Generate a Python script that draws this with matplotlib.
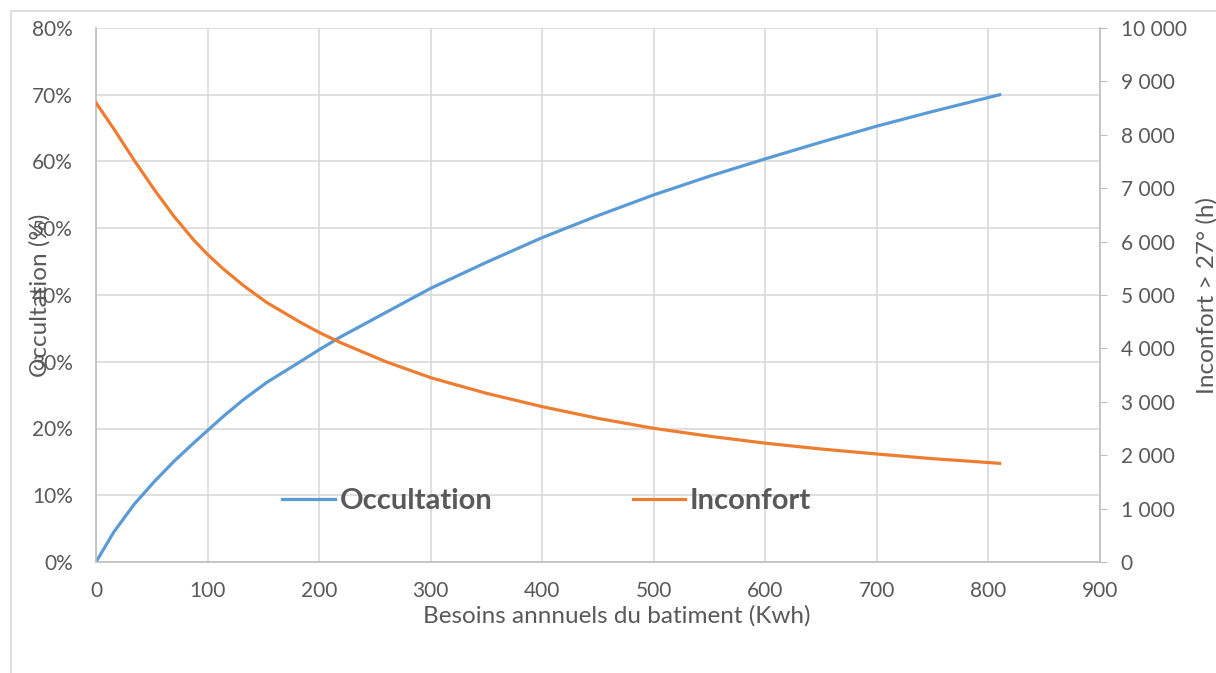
import matplotlib.pyplot as plt
from matplotlib.patches import Rectangle
from matplotlib.ticker import FuncFormatter, MultipleLocator

# values
besoins = [0, 16, 34, 52, 70, 88, 100, 114, 132, 153, 183, 200, 219, 260, 300, 350, 400,
           450, 500, 550, 600, 650, 700, 750, 810]
occultation = [0, 4.5, 8.6, 12.0, 15.1, 17.9, 19.7, 21.8, 24.3, 26.9, 30.0, 31.8, 33.7, 37.4, 41.0,
               44.9, 48.6, 51.9, 55.0, 57.8, 60.4, 62.9, 65.3, 67.5, 70.0]
inconfort = [8600, 8110, 7530, 6980, 6470, 6020, 5760, 5490, 5180, 4860, 4490, 4300, 4110, 3750, 3452,
             3159, 2909, 2690, 2503, 2355, 2225, 2116, 2022, 1935, 1848]

blue = '#5b9bd5'
orange = '#ed7d31'
gray = '#595959'
grid_c = '#d9d9d9'

plt.rcParams['font.family'] = ['Lato', 'DejaVu Sans']

fig = plt.figure(figsize=(12.16, 6.73), dpi=100)
ax = fig.add_axes([96 / 1216, 1 - 562 / 673, 1004 / 1216, 534 / 673])
ax2 = ax.twinx()

# outer chart frame
fig.patches.append(Rectangle((11 / 1216, -0.01), 1.02, 1 - 11 / 673 + 0.01,
                             transform=fig.transFigure, fill=False,
                             edgecolor=grid_c, linewidth=1.2))

l1, = ax.plot(besoins, occultation, color=blue, linewidth=2.3, label='Occultation')
l2, = ax2.plot(besoins, inconfort, color=orange, linewidth=2.3, label='Inconfort')

ax.set_xlim(0, 900)
ax.set_ylim(0, 80)
ax2.set_ylim(0, 10000)
ax.xaxis.set_major_locator(MultipleLocator(100))
ax.yaxis.set_major_locator(MultipleLocator(10))
ax2.yaxis.set_major_locator(MultipleLocator(1000))
ax.yaxis.set_major_formatter(FuncFormatter(lambda v, p: f'{v:.0f}%'))
ax2.yaxis.set_major_formatter(FuncFormatter(lambda v, p: f'{v:,.0f}'.replace(',', ' ')))

ax.grid(True, color=grid_c, linewidth=1.2)
ax.set_axisbelow(True)
for a in (ax, ax2):
    a.spines['top'].set_visible(False)
    for s in ('left', 'right', 'bottom'):
        a.spines[s].set_color('#bfbfbf')
        a.spines[s].set_linewidth(1.2)
ax.spines['right'].set_visible(False)
ax2.spines['left'].set_visible(False)
ax2.spines['bottom'].set_visible(False)

ax.tick_params(axis='x', length=0, labelsize=15, labelcolor=gray, pad=14)
ax.tick_params(axis='y', length=0, labelsize=15, labelcolor=gray, pad=16.5)
ax2.tick_params(axis='y', length=5, color='#bfbfbf', labelsize=15, labelcolor=gray, pad=10)

ax.set_xlabel('Besoins annnuels du batiment (Kwh)', fontsize=17.5, color=gray, va='top')
ax.xaxis.set_label_coords(0.519, -0.08)
ax.set_ylabel('Occultation (%)', fontsize=17.5, color=gray)
ax.yaxis.set_label_coords(-0.045, 0.5)
ax2.set_ylabel('Inconfort > 27° (h)', fontsize=17.5, color=gray)
ax2.yaxis.set_label_coords(1.096, 0.5)

leg = ax.legend(handles=[l1, l2], loc='center', bbox_to_anchor=(0.449, 0.114), ncol=2,
                frameon=False, handlelength=1.8, handletextpad=0.17, columnspacing=4.8,
                prop={'size': 21, 'weight': 'bold'})
for t in leg.get_texts():
    t.set_color(gray)

fig.savefig('out.png', dpi=100)
